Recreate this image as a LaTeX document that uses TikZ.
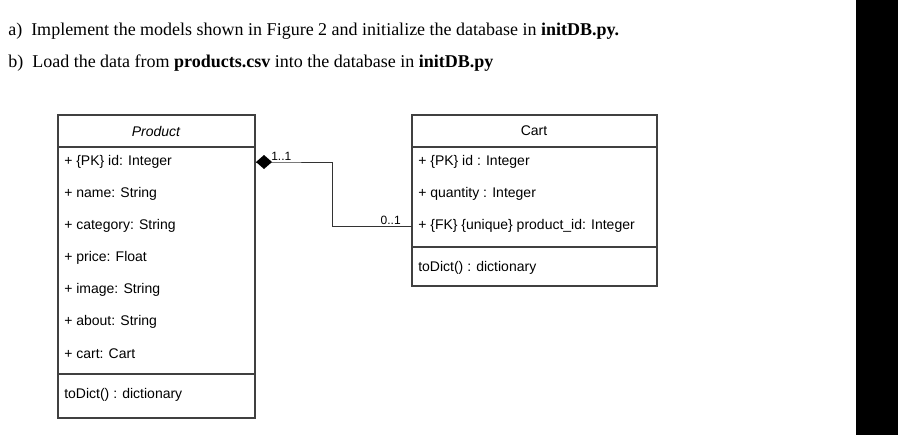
\documentclass[tikz,border=0pt]{standalone}
\usepackage{fontspec}
\setmainfont{Liberation Serif}
\newfontfamily\uml{Liberation Sans}
\begin{document}
\begin{tikzpicture}[x=0.75pt,y=-0.75pt,
  box/.style={draw=black!75,line width=0.9pt},
  attr/.style={anchor=west,font=\uml\fontsize{10.5}{12}\selectfont,inner sep=0pt},
  hd/.style={font=\uml\fontsize{10.5}{12}\selectfont,inner sep=0pt},
  q/.style={anchor=west,font=\fontsize{13.5}{15}\selectfont,inner sep=0pt},
  mult/.style={font=\uml\fontsize{9}{10}\selectfont,inner sep=0pt}]
\useasboundingbox (0,0) rectangle (898,435);
\fill[black] (856,0) rectangle (898,435);
\node[q] (qa) at (8,31) {a)\ \ Implement the models shown in Figure 2 and initialize the database in \textbf{initDB.py.}};
\node[q] (qb) at (8,63) {b)\ \ Load the data from \textbf{products.csv} into the database in \textbf{initDB.py}};
% Product
\draw[box] (58,115) rectangle (255,418);
\draw[box] (58,147) -- (255,147) (58,374) -- (255,374);
\node[hd,font=\uml\itshape\fontsize{10.5}{12}\selectfont] (ph) at (156,131) {Product};
\foreach \t [count=\i] in {+ \{PK\} id: Integer,+ name: String,+ category: String,+ price: Float,+ image: String,+ about: String,+ cart: Cart}
  \node[attr] (p\i) at (64,130+32*\i) {\t};
\node[attr] (pm) at (64,395) {toDict() : dictionary};
% Cart
\draw[box] (412,115) rectangle (657,286);
\draw[box] (412,147) -- (657,147) (412,247) -- (657,247);
\node[hd] (ch) at (534,131) {Cart};
\node[attr] (c1) at (418,162) {+ \{PK\} id : Integer};
\node[attr] (c2) at (418,194) {+ quantity : Integer};
\node[attr] (c3) at (418,226) {+ \{FK\} \{unique\} product\_id: Integer};
\node[attr] (cm) at (418,268) {toDict() : dictionary};
% connector
\coordinate (s) at (256,162);
\coordinate (e) at (412,226);
\draw[line width=0.7pt,black!80] (s) -- ++(15,0) -- (332,162) -- (332,226) -- (e);
\fill (s) -- ++(8,-7) -- ++(8,7) -- ++(-8,7) -- cycle;
\node[mult,anchor=south west] (m1) at (271,161) {1..1};
\node[mult,anchor=south east] (m2) at (401,225) {0..1};
\end{tikzpicture}
\end{document}
